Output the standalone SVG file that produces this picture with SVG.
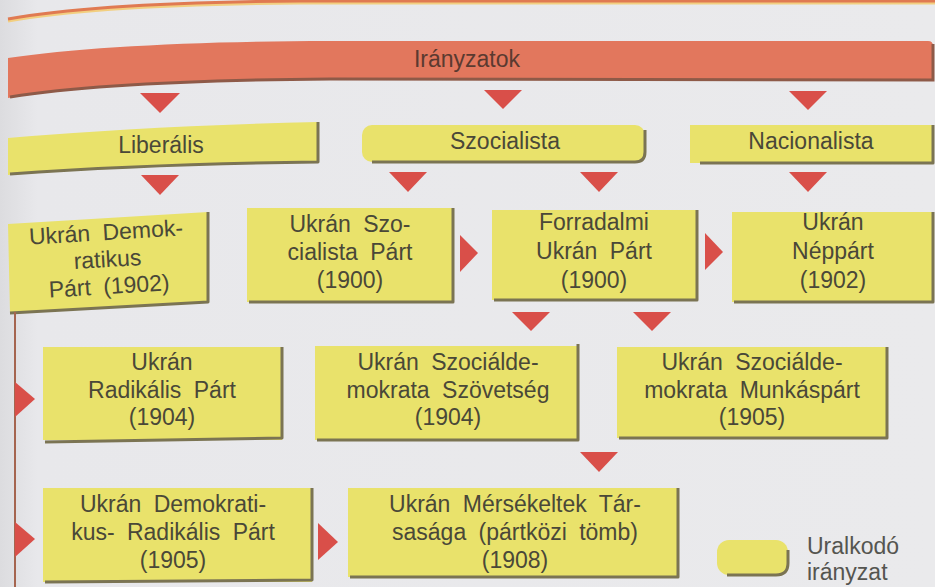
<svg xmlns="http://www.w3.org/2000/svg" width="935" height="587" viewBox="0 0 935 587">
<defs>
<style>
.box{fill:#e9e26b}
.sh{fill:none;stroke:#7b7453;stroke-width:3;stroke-linejoin:round}
.t{font-family:"Liberation Sans",Arial,sans-serif;font-size:23px;fill:#4a4838;text-anchor:middle;word-spacing:6px}
.tri{fill:#d94f49}
.lg{font-family:"Liberation Sans",Arial,sans-serif;font-size:23px;fill:#555550}
</style>
<linearGradient id="bg" x1="0" y1="0" x2="1" y2="0">
<stop offset="0" stop-color="#dcdcdf"/>
<stop offset="0.04" stop-color="#e8e8eb"/>
<stop offset="1" stop-color="#eaeaec"/>
</linearGradient>
</defs>
<rect x="0" y="0" width="935" height="587" fill="url(#bg)"/>

<!-- top swoosh -->
<path d="M8,21 C70,10 180,4 300,3 L935,3" fill="none" stroke="#f2cf80" stroke-width="3"/>
<path d="M8,19 C70,8 180,2 300,1 L935,1" fill="none" stroke="#e07a52" stroke-width="3"/>

<g id="iranyzatok">
<path d="M8,58 C80,47 200,41 330,41 L928,41 Q933,41 933,46 L933,80 L330,79 C200,80 80,86 8,98 Z" fill="#e2775d"/>
<path d="M10,97 C80,86 200,80 330,79 L933,80 L933,44" fill="none" stroke="#8e5a48" stroke-width="3"/>
<text x="467" y="67" class="t" fill="#5a3a30" style="fill:#5a3a30">Irányzatok</text>
</g>

<g id="liberalis">
<path d="M8,138 Q150,126 318,122 L318,162 Q150,165 8,175 Z" class="box"/>
<path d="M10,174 Q150,164 318,162 L318,122" class="sh"/>
<text x="161" y="153" class="t">Liberális</text>
</g>

<g id="szocialista">
<rect x="362" y="125" width="283" height="37" rx="10" class="box"/>
<path d="M372,162 L635,162 Q645,162 645,152 L645,130" class="sh"/>
<text x="505" y="149" class="t">Szocialista</text>
</g>

<g id="nacionalista">
<rect x="690" y="125" width="243" height="38" class="box"/>
<path d="M700,163 L933,163 L933,125" class="sh"/>
<text x="811" y="149" class="t">Nacionalista</text>
</g>

<g id="ukran-demokratikus">
<polygon points="8,224 208,212 208,302 10,313" class="box"/>
<path d="M10,313 L208,302 L208,212" class="sh"/>
<g transform="rotate(-3.4 108 267)">
<text x="108" y="240" class="t">Ukrán Demok-</text>
<text x="108" y="267" class="t">ratikus</text>
<text x="108" y="294" class="t">Párt (1902)</text>
</g>
</g>

<g id="ukran-szocialista">
<rect x="247" y="208" width="206" height="94" class="box"/>
<path d="M249,302 L453,302 L453,208" class="sh"/>
<text x="350" y="232" class="t">Ukrán Szo-</text>
<text x="350" y="260" class="t">cialista Párt</text>
<text x="350" y="288" class="t">(1900)</text>
</g>

<g id="forradalmi">
<rect x="492" y="210" width="205" height="90" class="box"/>
<path d="M494,300 L697,300 L697,210" class="sh"/>
<text x="594" y="230" class="t">Forradalmi</text>
<text x="594" y="259" class="t">Ukrán Párt</text>
<text x="594" y="288" class="t">(1900)</text>
</g>

<g id="neppart">
<rect x="732" y="212" width="201" height="90" class="box"/>
<path d="M734,302 L933,302 L933,212" class="sh"/>
<text x="833" y="230" class="t">Ukrán</text>
<text x="833" y="259" class="t">Néppárt</text>
<text x="833" y="288" class="t">(1902)</text>
</g>

<g id="radikalis">
<rect x="43" y="347" width="239" height="93" class="box"/>
<path d="M45,442 L282,438 L282,347" class="sh"/>
<text x="162" y="370" class="t">Ukrán</text>
<text x="162" y="398" class="t">Radikális Párt</text>
<text x="162" y="425" class="t">(1904)</text>
</g>

<g id="szovetseg">
<rect x="315" y="346" width="263" height="94" class="box"/>
<path d="M317,440 L578,440 L578,344" class="sh"/>
<text x="448" y="370" class="t">Ukrán Szociálde-</text>
<text x="448" y="398" class="t">mokrata Szövetség</text>
<text x="448" y="425" class="t">(1904)</text>
</g>

<g id="munkaspart">
<rect x="617" y="347" width="270" height="91" class="box"/>
<path d="M619,438 L887,438 L887,347" class="sh"/>
<text x="752" y="370" class="t">Ukrán Szociálde-</text>
<text x="752" y="398" class="t">mokrata Munkáspárt</text>
<text x="752" y="425" class="t">(1905)</text>
</g>

<g id="demokratikus-radikalis">
<rect x="43" y="488" width="269" height="94" class="box"/>
<path d="M45,582 L312,580 L312,488" class="sh"/>
<text x="173" y="512" class="t">Ukrán Demokrati-</text>
<text x="173" y="540" class="t">kus- Radikális Párt</text>
<text x="173" y="568" class="t">(1905)</text>
</g>

<g id="mersekeltek">
<rect x="348" y="488" width="330" height="89" class="box"/>
<path d="M350,577 L678,577 L678,488" class="sh"/>
<text x="515" y="512" class="t">Ukrán Mérsékeltek Tár-</text>
<text x="515" y="540" class="t">sasága (pártközi tömb)</text>
<text x="515" y="568" class="t">(1908)</text>
</g>

<g id="connectors">
<path d="M15,312 L15,587" fill="none" stroke="#a5654f" stroke-width="2"/>
<polygon class="tri" points="140,93 180,93 160,113"/>
<polygon class="tri" points="484,90 522,90 503,109"/>
<polygon class="tri" points="789,91 827,91 808,110"/>
<polygon class="tri" points="141,175 179,175 160,195"/>
<polygon class="tri" points="389,172 427,172 408,192"/>
<polygon class="tri" points="580,172 618,172 599,192"/>
<polygon class="tri" points="789,172 827,172 808,192"/>
<polygon class="tri" points="512,312 550,312 531,331"/>
<polygon class="tri" points="633,312 671,312 652,331"/>
<polygon class="tri" points="580,452 618,452 599,472"/>
<polygon class="tri" points="460,235 478,253 460,272"/>
<polygon class="tri" points="705,233 723,252 705,270"/>
<polygon class="tri" points="15,382 35,399 15,417"/>
<polygon class="tri" points="15,522 35,539 15,557"/>
<polygon class="tri" points="318,523 338,542 318,560"/>
</g>

<g id="legend">
<rect x="717" y="540" width="71" height="35" rx="12" class="box"/>
<path d="M727,575 L776,575 Q788,575 788,563 L788,550" class="sh"/>
<text x="807" y="554" class="lg">Uralkodó</text>
<text x="807" y="580" class="lg">irányzat</text>
</g>
</svg>
